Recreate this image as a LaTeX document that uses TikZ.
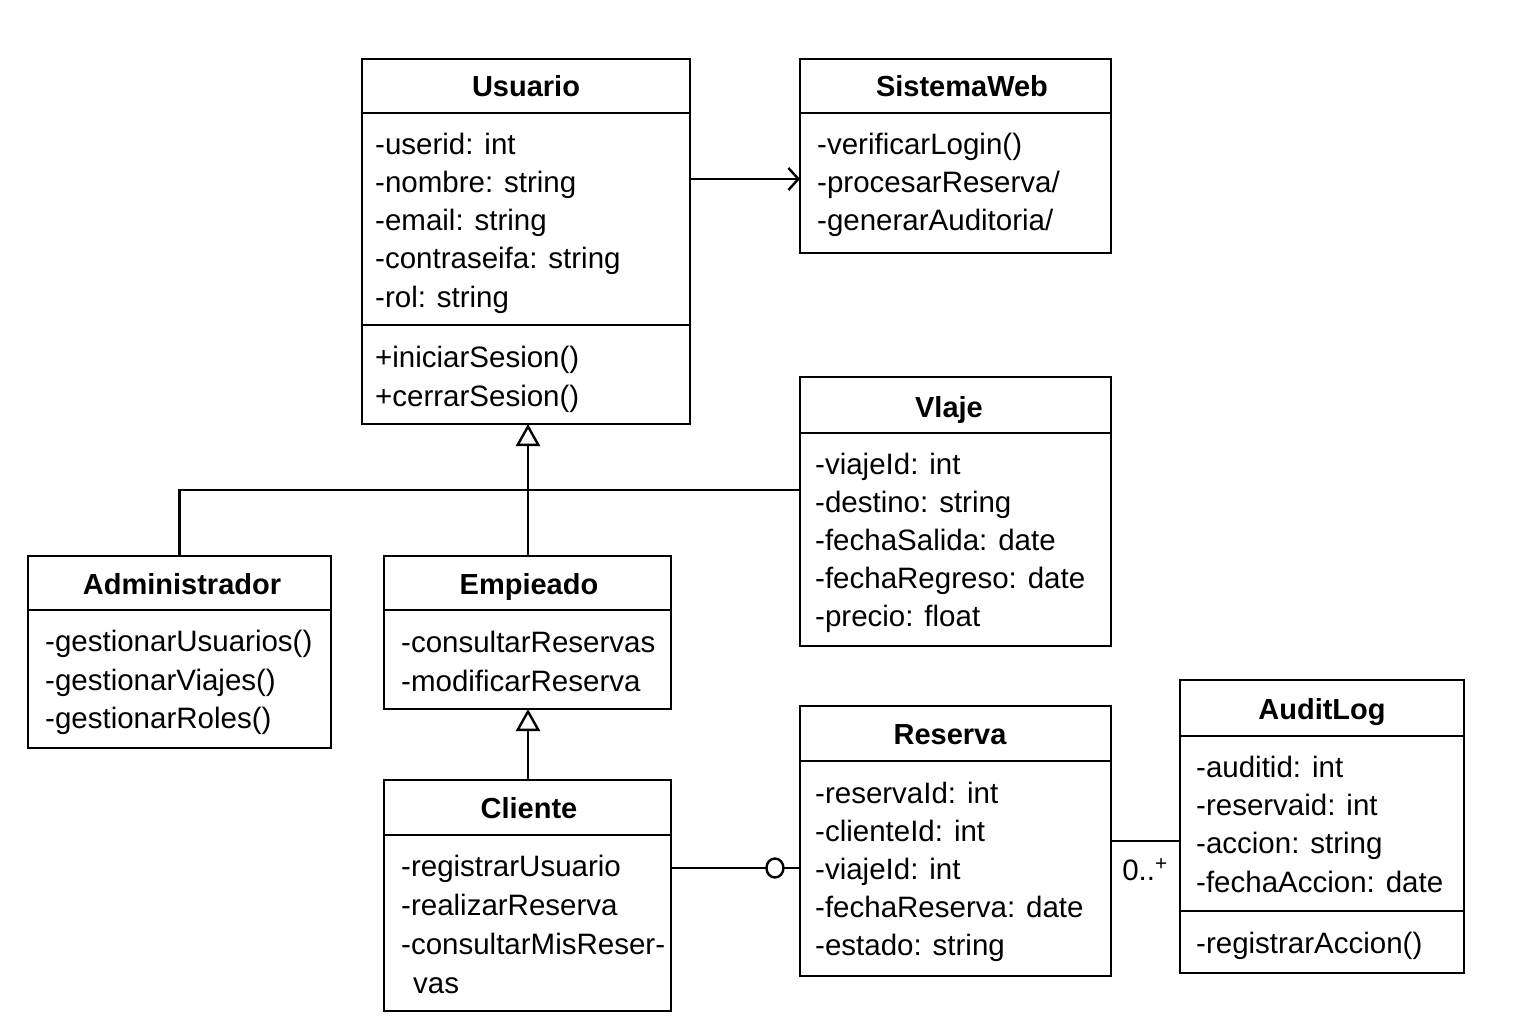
\documentclass[tikz,border=0pt]{standalone}
\usepackage{fontspec}
\setmainfont{Liberation Sans}
\usetikzlibrary{arrows.meta,shapes.geometric}
\newcommand\bodyfnt{\fontsize{29.5}{34}\selectfont}
\newcommand\titlefnt{\fontsize{29}{34}\selectfont\bfseries}
\begin{document}
\begin{tikzpicture}[x=1pt,y=-1pt,
  box/.style={draw, line width=2.4pt, anchor=north west, inner sep=0pt, outer sep=0pt},
  ln/.style={line width=2.4pt},
  txt/.style={anchor=base west, inner sep=0pt, font=\bodyfnt, yshift=-10pt},
  ttl/.style={anchor=base, inner sep=0pt, font=\titlefnt, yshift=-10pt},
  conn/.style={line width=2.4pt, line join=miter}]
\useasboundingbox[fill=white] (0,0) rectangle (1536,1024);

% Usuario
\node[box, minimum width=328pt, minimum height=365pt] (usuario) at (362,59) {};
\draw[ln] (usuario.west |- 0,113) -- (usuario.east |- 0,113);
\draw[ln] (usuario.west |- 0,325) -- (usuario.east |- 0,325);
\node[ttl] (usuarioT) at (526,87) {Usuario};
\node[txt] (u1) at (375,145) {-userid: int};
\node[txt] (u2) at (375,183) {-nombre: string};
\node[txt] (u3) at (375,221) {-email: string};
\node[txt] (u4) at (375,259) {-contraseifa: string};
\node[txt] (u5) at (375,297) {-rol: string};
\node[txt] (u6) at (375,357) {+iniciarSesion()};
\node[txt] (u7) at (375,396) {+cerrarSesion()};

% SistemaWeb
\node[box, minimum width=311pt, minimum height=194pt] (sisweb) at (800,59) {};
\draw[ln] (sisweb.west |- 0,113) -- (sisweb.east |- 0,113);
\node[ttl] (siswebT) at (962,87) {SistemaWeb};
\node[txt] (s1) at (817,145) {-verificarLogin()};
\node[txt] (s2) at (817,183) {-procesarReserva/};
\node[txt] (s3) at (817,221) {-generarAuditoria/};

% Vlaje
\node[box, minimum width=311pt, minimum height=269pt] (viaje) at (800,377) {};
\draw[ln] (viaje.west |- 0,433) -- (viaje.east |- 0,433);
\node[ttl] (viajeT) at (949,407) {Vlaje};
\node[txt] (v1) at (815,464) {-viajeId: int};
\node[txt] (v2) at (815,502) {-destino: string};
\node[txt] (v3) at (815,540) {-fechaSalida: date};
\node[txt] (v4) at (815,578) {-fechaRegreso: date};
\node[txt] (v5) at (815,616) {-precio: float};

% Administrador
\node[box, minimum width=303pt, minimum height=192pt] (admin) at (28,556) {};
\draw[ln] (admin.west |- 0,610) -- (admin.east |- 0,610);
\node[ttl] (adminT) at (182,584) {Administrador};
\node[txt] (a1) at (45,641) {-gestionarUsuarios()};
\node[txt] (a2) at (45,680) {-gestionarViajes()};
\node[txt] (a3) at (45,718) {-gestionarRoles()};

% Empieado
\node[box, minimum width=287pt, minimum height=153pt] (empleado) at (384,556) {};
\draw[ln] (empleado.west |- 0,610) -- (empleado.east |- 0,610);
\node[ttl] (empleadoT) at (529,584) {Empieado};
\node[txt] (e1) at (401,642) {-consultarReservas};
\node[txt] (e2) at (401,681) {-modificarReserva};

% Cliente
\node[box, minimum width=287pt, minimum height=231pt] (cliente) at (384,780) {};
\draw[ln] (cliente.west |- 0,835) -- (cliente.east |- 0,835);
\node[ttl] (clienteT) at (529,808) {Cliente};
\node[txt] (c1) at (401,866) {-registrarUsuario};
\node[txt] (c2) at (401,905) {-realizarReserva};
\node[txt] (c3) at (401,944) {-consultarMisReser-};
\node[txt] (c4) at (413,983) {vas};

% Reserva
\node[box, minimum width=311pt, minimum height=270pt] (reserva) at (800,706) {};
\draw[ln] (reserva.west |- 0,761) -- (reserva.east |- 0,761);
\node[ttl] (reservaT) at (950,734) {Reserva};
\node[txt] (r1) at (815,793) {-reservaId: int};
\node[txt] (r2) at (815,831) {-clienteId: int};
\node[txt] (r3) at (815,869) {-viajeId: int};
\node[txt] (r4) at (815,907) {-fechaReserva: date};
\node[txt] (r5) at (815,945) {-estado: string};

% AuditLog
\node[box, minimum width=284pt, minimum height=293pt] (audit) at (1180,680) {};
\draw[ln] (audit.west |- 0,736) -- (audit.east |- 0,736);
\draw[ln] (audit.west |- 0,911) -- (audit.east |- 0,911);
\node[ttl] (auditT) at (1322,709) {AuditLog};
\node[txt] (l1) at (1196,767) {-auditid: int};
\node[txt] (l2) at (1196,805) {-reservaid: int};
\node[txt] (l3) at (1196,843) {-accion: string};
\node[txt] (l4) at (1196,882) {-fechaAccion: date};
\node[txt] (l5) at (1196,943) {-registrarAccion()};

% connectors
\coordinate (ysw) at (0,179);
\draw[conn, -{Straight Barb[length=10pt,width=22pt,line width=2.4pt]}] (usuario.east |- ysw) -- (sisweb.west |- ysw);

\coordinate (hbus) at (528,490);
\draw[conn] (admin.north) |- (hbus) -- (hbus -| viaje.west);
\draw[conn, -{Triangle[open,length=22pt,width=24pt,line width=2.4pt]}] (empleado.north -| hbus) -- (usuario.south -| hbus);
\draw[conn, -{Triangle[open,length=22pt,width=24pt,line width=2.4pt]}] (cliente.north -| hbus) -- (empleado.south -| hbus);

\coordinate (ycr) at (0,868);
\draw[conn] (cliente.east |- ycr) -- (reserva.west |- ycr)
  node[pos=0.806, draw, line width=2.4pt, fill=white, ellipse, minimum width=17pt, minimum height=19pt, inner sep=0pt] (agg) {};

\coordinate (yra) at (0,841);
\draw[conn] (reserva.east |- yra) -- (audit.west |- yra);
\node[anchor=base, inner sep=0pt, font=\bodyfnt] (mult) at (1145,880) {0..\textsuperscript{+}};
\end{tikzpicture}
\end{document}
